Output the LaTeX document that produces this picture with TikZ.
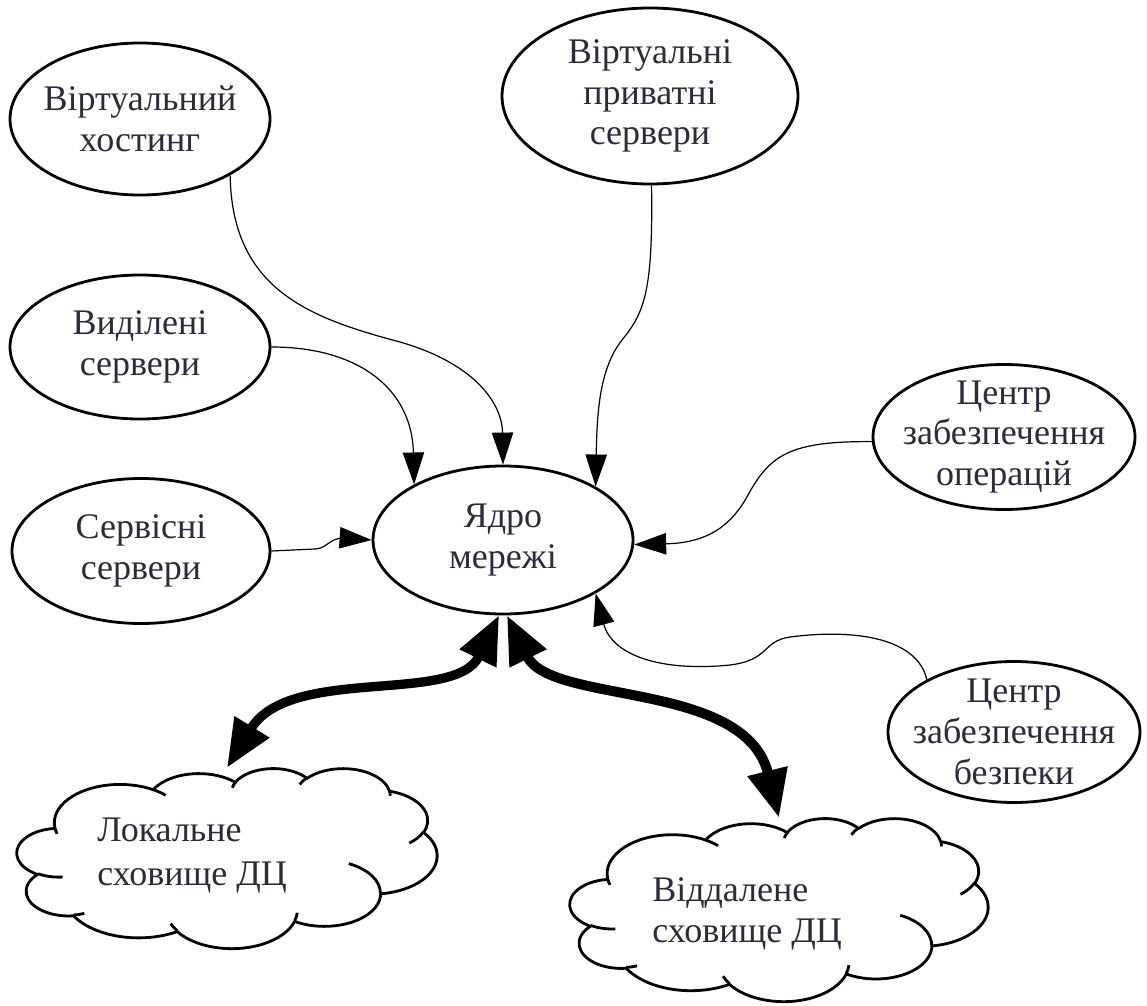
\documentclass[tikz,border=0pt]{standalone}
\usepackage{fontspec}
\setmainfont{Liberation Serif}
\usetikzlibrary{shapes.geometric,arrows.meta}
\definecolor{ink}{rgb}{0.17,0.17,0.23}
\tikzset{
  bubble/.style n args={2}{ellipse, draw=black, line width=2.1pt, fill=white,
    minimum width=#1, minimum height=#2, inner xsep=-90pt, inner ysep=-70pt,
    align=center, text=ink, font=\fontsize{27pt}{30.5pt}\selectfont},
  lbl/.style={align=left, text=ink, inner sep=0pt},
  link/.style={line width=0.9pt, -{Triangle[length=24pt, width=16pt]}},
  bond/.style={line width=#1,
    {Triangle[length=36pt, width=29pt]}-{Triangle[length=36pt, width=29pt]}},
  cloudline/.style={line width=2.1pt, line join=round},
  cloudbox/.style n args={2}{rectangle, minimum width=#1, minimum height=#2, inner sep=0pt},
  % elliptical arc given by radii, start angle and sweep measured along rays
  carc/.style n args={4}{insert path={arc[x radius=#1, y radius=#2,
     start angle={atan2(#1*sin(#3),#2*cos(#3))},
     delta angle={mod(atan2(#1*sin(#3+#4),#2*cos(#3+#4))-atan2(#1*sin(#3),#2*cos(#3))+720,360)}]}},
}
% cloud outline in a 432 x 432 box, y pointing down
\newcommand\drawcloudoutline{%
  \filldraw[cloudline, fill=white] (39.00,143.70)
    [carc={67.53}{91.90}{-190.48748}{123.78053}]
    [carc={53.33}{72.67}{-144.10238}{89.94523}]
    [carc={43.65}{59.45}{-145.80792}{99.72302}]
    [carc={48.57}{65.95}{-130.98607}{117.24173}]
    [carc={53.33}{72.73}{-78.70888}{109.02692}]
    [carc={67.75}{92.20}{-46.26725}{130.269}]
    [carc={57.85}{78.67}{0.62502}{114.03333}]
    [carc={67.52}{92.15}{22.4516}{115.17255}]
    [carc={77.20}{105.43}{66.24263}{75.71102}]
    [carc={43.60}{59.18}{-274.94208}{146.73557}]
    [carc={43.45}{59.45}{-246.8285}{152.51885}]
    -- cycle;
  \draw[cloudline]
    (46.93,261.77) [carc={43.45}{59.45}{86.742}{26.4295}]
    (69.28,348.99) [carc={43.60}{59.18}{73.61047}{11.44747}]
    (164.78,390.90) [carc={67.52}{92.15}{137.62415}{14.0811}]
    (288.27,347.51) [carc={67.52}{92.15}{6.45327}{15.99835}]
    (341.29,229.54) [carc={57.85}{78.67}{-70.29235}{70.91737}]
    (417.98,153.54) [carc={53.33}{72.73}{30.31803}{27.7515}]
    (383.24,54.26) [carc={48.57}{65.95}{-13.74433}{14.8589}]
    (290.78,39.52) [carc={48.57}{65.95}{-149.18145}{18.19537}]
    (221.41,47.20) [carc={43.65}{59.45}{-163.49427}{17.68635}]
    (140.00,51.92) [carc={67.53}{91.90}{-66.70695}{12.31935}]
    (41.27,157.89) [carc={67.53}{91.90}{157.65435}{11.85817}];
}

\begin{document}
\begin{tikzpicture}[x=0.75pt, y=-0.75pt]
  \useasboundingbox (0,0) rectangle (1147,1006);
  \fill[white] (0,0) rectangle (1147,1006);

  % storage clouds
  \node[cloudbox={315pt}{135pt}] (lcl) at (227,858) {};
  \begin{scope}[shift={(17,768)}, x=0.72917pt, y=-0.3125pt]
    \drawcloudoutline
  \end{scope}
  \node[cloudbox={313.5pt}{137.25pt}] (rmt) at (779,909.5) {};
  \begin{scope}[shift={(570,818)}, x=0.72569pt, y=-0.31771pt]
    \drawcloudoutline
  \end{scope}
  \node[lbl, anchor=west, font=\fontsize{27pt}{33pt}\selectfont] (lcltext) at (97,856)
    {Локальне\\сховище ДЦ};
  \node[lbl, anchor=west, font=\fontsize{27pt}{30.5pt}\selectfont] (rmttext) at (652,914)
    {Віддалене\\сховище ДЦ};

  % services and centres
  \node[bubble={195pt}{114pt}] (host) at (140,119) {Віртуальний\\хостинг};
  \node[bubble={222pt}{132pt}] (vps) at (650,96) {Віртуальні\\приватні\\сервери};
  \node[bubble={195pt}{108pt}] (ded) at (140,347) {Виділені\\сервери};
  \node[bubble={193.5pt}{108.75pt}] (svc) at (141,551) {Сервісні\\сервери};
  \node[bubble={195pt}{111pt}] (core) at (503,540) {Ядро\\мережі};
  \node[bubble={196.5pt}{108.75pt}] (ops) at (1004,437) {Центр\\забезпечення\\операцій};
  \node[bubble={189pt}{105.75pt}] (sec) at (1014,732) {Центр\\забезпечення\\безпеки};

  % thin links into the core
  \draw[link] (host.-32) .. controls (232,290) and (310,318) .. (400,342)
              .. controls (470,362) and (502,400) .. (core.90);
  \draw[link] (ded.0) .. controls (360,347) and (412,390) .. (core.148);
  \draw[link] (vps.-89) .. controls (653,290) and (645,312) .. (622,340)
              .. controls (600,368) and (597,410) .. (core.30);
  \draw[link] (svc.0) -- (315,549) .. controls (326,549) and (330,538) .. (343,538)
              -- (core.180);
  \draw[link] (ops.182) .. controls (790,441) and (770,455) .. (748,495)
              .. controls (728,532) and (700,543) .. (core.-2);
  \draw[link] (sec.149) .. controls (918,640) and (860,628) .. (790,637)
              .. controls (762,641) and (770,660) .. (730,665)
              .. controls (660,672) and (612,655) .. (core.-30);

  % heavy two-way links to storage
  \draw[bond=7pt] (core.-93) .. controls (455,705) and (290,665) .. (lcl.north);
  \draw[bond=7.5pt] (core.-87) .. controls (551,705) and (745,680) .. (rmt.north);
\end{tikzpicture}
\end{document}
